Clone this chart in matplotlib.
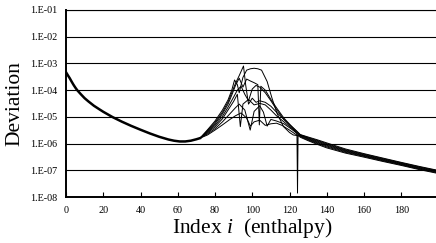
import matplotlib
matplotlib.use("Agg")
import matplotlib.pyplot as plt
from matplotlib.ticker import FixedLocator, FuncFormatter
import numpy as np

# shared part of all runs (index 0..72)
head_idx = [0, 1, 2, 3, 4, 5, 6, 8, 10, 12, 15, 18, 20, 25, 30, 35, 40, 45, 50, 55,
            58, 61, 64, 67, 70, 72]
head_dev = [4.7e-4, 3.6e-4, 2.8e-4, 2.1e-4, 1.6e-4, 1.25e-4, 1.0e-4, 7.0e-5, 5.0e-5,
            3.8e-5, 2.6e-5, 1.9e-5, 1.55e-5, 9.8e-6, 6.6e-6, 4.6e-6, 3.3e-6, 2.4e-6,
            1.8e-6, 1.42e-6, 1.28e-6, 1.2e-6, 1.2e-6, 1.28e-6, 1.45e-6, 1.6e-6]

# runs diverging around the peak
run1_idx = [72, 76, 80, 84, 88, 91, 94, 97, 99, 101, 104, 107, 110, 113, 116, 120, 123, 126]
run1_dev = [1.6e-6, 2.1e-6, 3.2e-6, 5.0e-6, 8.0e-6, 1.1e-5, 1.4e-5, 9.0e-6, 4.5e-6,
            6.5e-6, 7.5e-6, 4.8e-6, 5.5e-6, 5.8e-6, 4.8e-6, 3.2e-6, 2.3e-6, 1.7e-6]

run2_idx = [72, 76, 80, 84, 88, 91, 93, 96, 98.9, 101, 104, 106, 108, 110, 113, 117,
            121, 124, 126]
run2_dev = [1.6e-6, 2.3e-6, 3.6e-6, 6.5e-6, 1.3e-5, 2.2e-5, 3.0e-5, 1.8e-5, 3.2e-6,
            1.6e-5, 2.6e-5, 1.5e-5, 4.5e-6, 8.0e-6, 7.0e-6, 5.5e-6, 3.5e-6, 2.4e-6, 1.8e-6]

run3_idx = [72, 76, 80, 84, 87, 90, 92, 93.6, 95, 98, 101, 104, 107, 110, 113, 117,
            121, 124, 126]
run3_dev = [1.6e-6, 2.5e-6, 4.2e-6, 8.5e-6, 1.8e-5, 3.8e-5, 7.0e-5, 4.3e-6, 3.0e-5,
            4.5e-5, 2.8e-5, 3.2e-5, 2.8e-5, 1.8e-5, 1.1e-5, 6.5e-6, 3.8e-6, 2.6e-6, 1.9e-6]

run4_idx = [72, 76, 80, 84, 87, 90, 92, 94, 96, 98, 100, 102, 104, 107, 110, 113, 117,
            121, 124, 124.3, 124.6, 126]
run4_dev = [1.6e-6, 2.7e-6, 4.8e-6, 1.05e-5, 2.3e-5, 5.5e-5, 1.0e-4, 1.4e-4, 7.0e-5,
            4.0e-5, 1.1e-4, 1.5e-4, 1.3e-4, 8.0e-5, 4.0e-5, 1.9e-5, 8.0e-6, 4.2e-6,
            2.4e-6, 1.4e-8, 2.1e-6, 2.0e-6]

run5_idx = [72, 76, 80, 84, 87, 89, 91, 93, 95, 97, 99, 101, 103, 103.8, 104.6, 107,
            110, 113, 117, 121, 124, 126]
run5_dev = [1.6e-6, 2.9e-6, 5.5e-6, 1.3e-5, 3.0e-5, 6.5e-5, 1.5e-4, 2.8e-4, 1.3e-4,
            2.6e-4, 2.2e-4, 1.9e-4, 1.6e-4, 5.0e-6, 1.4e-4, 1.0e-4, 4.5e-5, 2.2e-5,
            9.0e-6, 4.5e-6, 2.8e-6, 2.05e-6]

run6_idx = [72, 76, 80, 84, 87, 89, 91, 93, 95.3, 96.5, 98, 100, 102, 104, 107, 110,
            113, 117, 121, 124, 126]
run6_dev = [1.6e-6, 3.1e-6, 6.2e-6, 1.5e-5, 3.6e-5, 8.0e-5, 1.8e-4, 3.5e-4, 8.0e-4,
            1.5e-4, 3.0e-5, 5.0e-5, 3.5e-5, 4.0e-5, 3.5e-5, 2.5e-5, 1.5e-5, 8.0e-6,
            4.5e-6, 2.9e-6, 2.1e-6]

run7_idx = [72, 76, 80, 84, 87, 89, 90.5, 92, 93, 95, 97, 99, 101, 103, 105, 108,
            110.6, 113.3, 116.8, 120, 122, 124, 126]
run7_dev = [1.6e-6, 3.3e-6, 7.0e-6, 1.8e-5, 4.3e-5, 1.0e-4, 2.4e-4, 1.6e-4, 8.0e-5,
            3.0e-4, 5.6e-4, 6.3e-4, 6.6e-4, 6.3e-4, 5.6e-4, 2.1e-4, 5.0e-5, 1.35e-5,
            4.3e-6, 2.6e-6, 2.1e-6, 2.0e-6, 2.15e-6]

# converged tail
tail_idx = [126, 130, 135, 140, 150, 160, 170, 180, 190, 199]
tail1 = [1.7e-6, 1.28e-6, 9.3e-7, 6.9e-7, 4.4e-7, 3.1e-7, 2.15e-7, 1.52e-7, 1.05e-7, 7.8e-8]
tail2 = [1.8e-6, 1.36e-6, 1.0e-6, 7.5e-7, 4.7e-7, 3.3e-7, 2.27e-7, 1.6e-7, 1.1e-7, 8.2e-8]
tail3 = [1.9e-6, 1.44e-6, 1.07e-6, 8.1e-7, 5.0e-7, 3.45e-7, 2.38e-7, 1.67e-7, 1.15e-7, 8.6e-8]
tail4 = [2.0e-6, 1.52e-6, 1.14e-6, 8.7e-7, 5.3e-7, 3.6e-7, 2.5e-7, 1.74e-7, 1.2e-7, 9.0e-8]
tail5 = [2.05e-6, 1.6e-6, 1.22e-6, 9.3e-7, 5.6e-7, 3.8e-7, 2.62e-7, 1.82e-7, 1.26e-7, 9.4e-8]
tail6 = [2.1e-6, 1.68e-6, 1.3e-6, 9.9e-7, 5.9e-7, 4.0e-7, 2.75e-7, 1.9e-7, 1.32e-7, 9.8e-8]
tail7 = [2.15e-6, 1.76e-6, 1.38e-6, 1.06e-6, 6.3e-7, 4.2e-7, 2.88e-7, 1.98e-7, 1.38e-7, 1.02e-7]

runs = [
    (run1_idx, run1_dev, tail1),
    (run2_idx, run2_dev, tail2),
    (run3_idx, run3_dev, tail3),
    (run4_idx, run4_dev, tail4),
    (run5_idx, run5_dev, tail5),
    (run6_idx, run6_dev, tail6),
    (run7_idx, run7_dev, tail7),
]

y_ticks = [1e-8, 1e-7, 1e-6, 1e-5, 1e-4, 1e-3, 1e-2, 1e-1]
x_ticks = list(range(0, 200, 20))

plt.rcParams["font.family"] = ["Liberation Serif", "DejaVu Serif"]
plt.rcParams["mathtext.fontset"] = "custom"
plt.rcParams["mathtext.rm"] = "Liberation Serif"
plt.rcParams["mathtext.it"] = "Liberation Serif:italic"

fig = plt.figure(figsize=(4.36, 2.43), dpi=100)
ax = fig.add_axes([66 / 436, 1 - 197 / 243, 372.5 / 436, 187 / 243])

ax.semilogy(head_idx, head_dev, color="black", lw=1.8, solid_joinstyle="round")
for idx, dev, tail in runs:
    ax.semilogy(list(idx) + tail_idx[1:], list(dev) + tail[1:], color="black", lw=0.7)

ax.set_xlim(0, 200)
ax.set_ylim(1e-8, 1e-1)
ax.yaxis.set_major_locator(FixedLocator(y_ticks))
ax.yaxis.set_minor_locator(FixedLocator([]))
ax.yaxis.set_major_formatter(FuncFormatter(lambda v, _: f"1.E-{round(-np.log10(v)):02d}"))
ax.set_xticks(x_ticks)
ax.grid(axis="y", color="black", lw=0.8)
ax.tick_params(axis="y", length=0, pad=6.5, labelsize=7.3)
ax.tick_params(axis="x", direction="in", length=3.5, width=0.8, pad=6.5, labelsize=7.3)
for side in ("left", "bottom"):
    ax.spines[side].set_linewidth(1.4)
ax.spines["top"].set_linewidth(0.8)
ax.spines["right"].set_visible(False)

ax.set_ylabel("Deviation", fontsize=15.5, labelpad=4)
ax.set_xlabel("Index $i$  (enthalpy)", fontsize=15.5, labelpad=1)

fig.savefig("out.png", dpi=100)
